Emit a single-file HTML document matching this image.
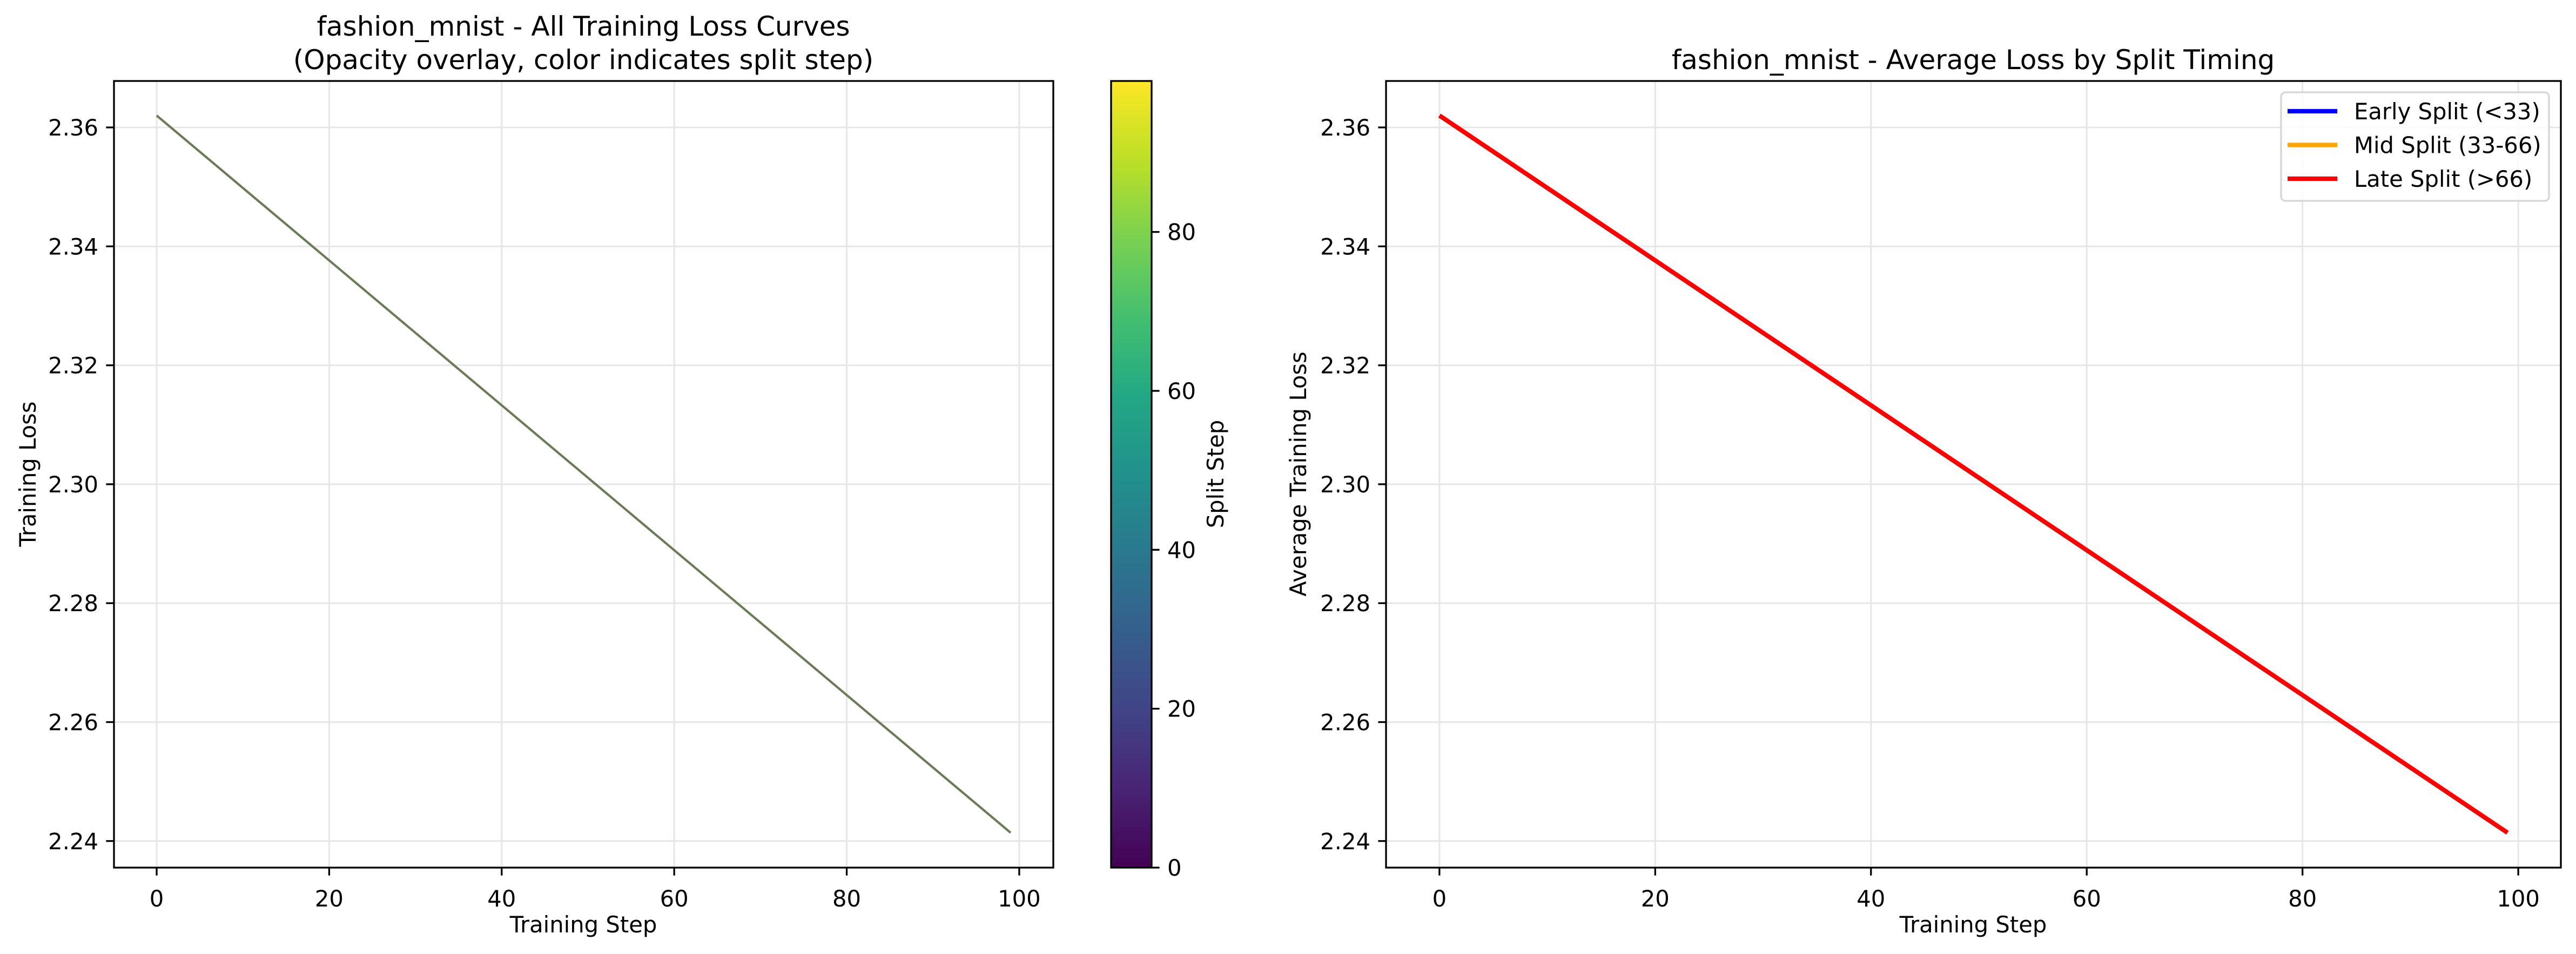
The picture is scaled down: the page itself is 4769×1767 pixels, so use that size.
<!DOCTYPE html>
<html><head><meta charset="utf-8"><style>
html,body{margin:0;padding:0;background:#fff;}
svg{display:block;font-family:"DejaVu Sans","Liberation Sans",sans-serif;}
</style></head><body>
<svg id="fig" width="4769" height="1767" viewBox="0 0 4769 1767" xmlns="http://www.w3.org/2000/svg">
<defs>
<linearGradient id="viridis" x1="0" y1="1" x2="0" y2="0">
<stop offset="0" stop-color="#440154"/><stop offset="0.1" stop-color="#482475"/><stop offset="0.2" stop-color="#414487"/><stop offset="0.3" stop-color="#355f8d"/><stop offset="0.4" stop-color="#2a788e"/><stop offset="0.5" stop-color="#21918c"/><stop offset="0.6" stop-color="#22a884"/><stop offset="0.7" stop-color="#44bf70"/><stop offset="0.8" stop-color="#7ad151"/><stop offset="0.9" stop-color="#bddf26"/><stop offset="1" stop-color="#fde725"/>
</linearGradient>
</defs>
<g id="root"></g>
</svg>
<script>
const steps = [0, 11, 22, 33, 44, 55, 66, 77, 88, 99];
const lossAll = [2.3620, 2.3486, 2.3352, 2.3218, 2.3084, 2.2950, 2.2816, 2.2682, 2.2548, 2.2414];
const lossLate = [2.3620, 2.3486, 2.3352, 2.3218, 2.3084, 2.2950, 2.2816, 2.2682, 2.2548, 2.2414];
const xTicks = [0, 20, 40, 60, 80, 100];
const yTicks = [2.24, 2.26, 2.28, 2.30, 2.32, 2.34, 2.36];
const yTickLabels = ["2.24", "2.26", "2.28", "2.30", "2.32", "2.34", "2.36"];
const cbTicks = [0, 20, 40, 60, 80];
const legendLabels = ["Early Split (<33)", "Mid Split (33-66)", "Late Split (>66)"];
const legendColors = ["#0000ff", "#ffa500", "#ff0000"];

const NS = "http://www.w3.org/2000/svg";
const root = document.getElementById("root");
function mk(tag, attrs, parent, text) {
  const e = document.createElementNS(NS, tag);
  for (const k in attrs) e.setAttribute(k, attrs[k]);
  if (text !== undefined) e.textContent = text;
  (parent || root).appendChild(e);
  return e;
}
const X0 = -4.95, X1 = 103.95, Y0 = 2.23553, Y1 = 2.36781;
const TOP = 150, BOT = 1607;
function panel(L, R, name) {
  const sx = v => L + (v - X0) / (X1 - X0) * (R - L);
  const sy = v => BOT - (v - Y0) / (Y1 - Y0) * (BOT - TOP);
  const g = mk("g", {});
  
  
  xTicks.forEach(t => {
    const l = mk("line", {x1: sx(t), x2: sx(t), y1: TOP, y2: BOT, stroke: "#e6e6e6", "stroke-width": 3}, g);
    
    
    const tk = mk("line", {x1: sx(t), x2: sx(t), y1: BOT, y2: BOT + 14.6, stroke: "#000", "stroke-width": 3.3}, g);
    
    
    const tl = mk("text", {x: sx(t), y: BOT + 72, "font-size": 41.7, "text-anchor": "middle"}, g, String(t));
    
    
  });
  yTicks.forEach((t, i) => {
    const l = mk("line", {x1: L, x2: R, y1: sy(t), y2: sy(t), stroke: "#e6e6e6", "stroke-width": 3}, g);
    
    
    const tk = mk("line", {x1: L - 14.6, x2: L, y1: sy(t), y2: sy(t), stroke: "#000", "stroke-width": 3.3}, g);
    
    
    const tl = mk("text", {x: L - 29, y: sy(t) + 15, "font-size": 41.7, "text-anchor": "end"}, g, yTickLabels[i]);
    
    
  });
  return {g, sx, sy};
}
// Left panel
const P1 = panel(211, 1950, "left-panel");
const pl1 = mk("polyline", {points: steps.map((s, i) => P1.sx(s) + "," + P1.sy(lossAll[i])).join(" "), fill: "none", stroke: "#6b7b55", "stroke-width": 4.2}, P1.g);


const f1 = mk("rect", {x: 211, y: TOP, width: 1739, height: BOT - TOP, fill: "none", stroke: "#000", "stroke-width": 3.3}, P1.g);


const t1a = mk("text", {x: 1080, y: 66, "font-size": 50, "text-anchor": "middle"}, P1.g, "fashion_mnist - All Training Loss Curves");


const t1b = mk("text", {x: 1080, y: 128, "font-size": 50, "text-anchor": "middle"}, P1.g, "(Opacity overlay, color indicates split step)");


const xl1 = mk("text", {x: 1080, y: 1727, "font-size": 41.7, "text-anchor": "middle"}, P1.g, "Training Step");


const yl1 = mk("text", {x: 0, y: 0, "font-size": 41.7, "text-anchor": "middle", transform: "translate(66,878) rotate(-90)"}, P1.g, "Training Loss");



// Colorbar
const CBmax = 99;
const cb = mk("g", {});


const cbr = mk("rect", {x: 2057, y: TOP, width: 75, height: BOT - TOP, fill: "url(#viridis)", stroke: "#000", "stroke-width": 3.3}, cb);


cbTicks.forEach(t => {
  const y = BOT - t / CBmax * (BOT - TOP);
  const tk = mk("line", {x1: 2132, x2: 2146.6, y1: y, y2: y, stroke: "#000", "stroke-width": 3.3}, cb);
  
  
  const tl = mk("text", {x: 2161, y: y + 15, "font-size": 41.7}, cb, String(t));
  
  
});
const cbl = mk("text", {x: 0, y: 0, "font-size": 41.7, "text-anchor": "middle", transform: "translate(2265,878) rotate(-90)"}, cb, "Split Step");



// Right panel
const P2 = panel(2566, 4741, "right-panel");
const pl2 = mk("polyline", {points: steps.map((s, i) => P2.sx(s) + "," + P2.sy(lossLate[i])).join(" "), fill: "none", stroke: "#ff0000", "stroke-width": 8.3}, P2.g);


const f2 = mk("rect", {x: 2566, y: TOP, width: 2175, height: BOT - TOP, fill: "none", stroke: "#000", "stroke-width": 3.3}, P2.g);


const t2 = mk("text", {x: 3653, y: 128, "font-size": 50, "text-anchor": "middle"}, P2.g, "fashion_mnist - Average Loss by Split Timing");


const xl2 = mk("text", {x: 3653, y: 1727, "font-size": 41.7, "text-anchor": "middle"}, P2.g, "Training Step");


const yl2 = mk("text", {x: 0, y: 0, "font-size": 41.7, "text-anchor": "middle", transform: "translate(2418,878) rotate(-90)"}, P2.g, "Average Training Loss");



// Legend
const lg = mk("g", {});


const lb = mk("rect", {x: 4223, y: 171, width: 496, height: 201, rx: 8, fill: "#fff", "fill-opacity": 0.8, stroke: "#d6d6d6", "stroke-width": 3.3}, lg);


legendLabels.forEach((lab, i) => {
  const y = 206 + i * 62.5;
  const ln = mk("line", {x1: 4235, x2: 4327, y1: y, y2: y, stroke: legendColors[i], "stroke-width": 8.3}, lg);
  
  
  const tx = mk("text", {x: 4358, y: y + 15, "font-size": 41.7}, lg, lab);
  
  
});
</script>
</body></html>
